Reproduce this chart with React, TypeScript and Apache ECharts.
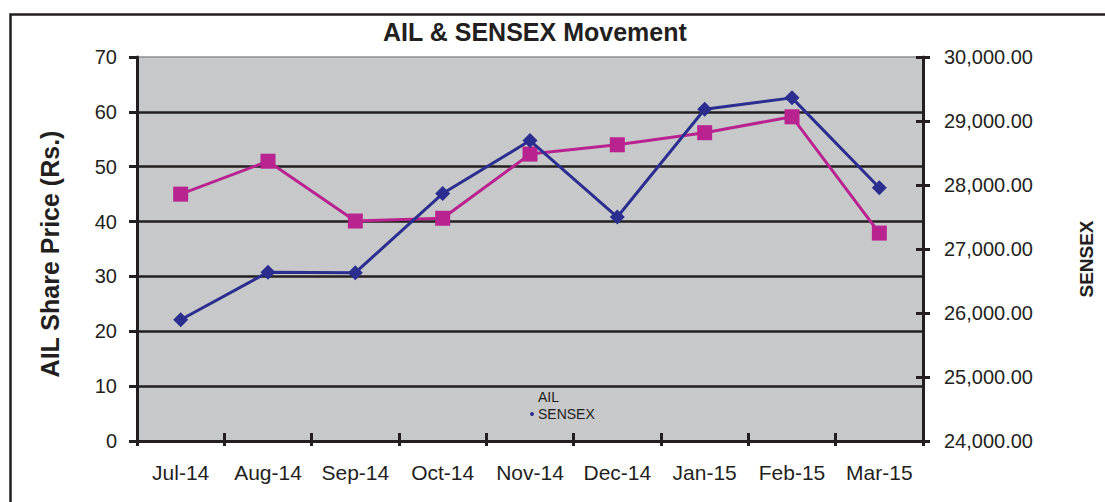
import React, { useEffect, useRef } from "react";
import * as echarts from "echarts";

const months = ["Jul-14", "Aug-14", "Sep-14", "Oct-14", "Nov-14", "Dec-14", "Jan-15", "Feb-15", "Mar-15"];
const ailPrice = [45.0, 51.0, 40.1, 40.6, 52.3, 54.0, 56.2, 59.1, 37.9];
const sensex = [25894.97, 26638.11, 26630.51, 27865.83, 28693.99, 27499.42, 29182.95, 29361.5, 27957.49];
const leftAxis = { min: 0, max: 70, interval: 10 };
const rightAxis = { min: 24000, max: 30000, interval: 1000 };

const FONT = "'Liberation Sans', Arial, Helvetica, sans-serif";
const INK = "#231f20";
const MAGENTA = "#b8238f";
const BLUE = "#2b2e8f";

const gridRect = { left: 137, right: 182, top: 57, bottom: 61 };

export default function App() {
  const ref = useRef<HTMLDivElement>(null);
  useEffect(() => {
    if (!ref.current) return;
    const chart = echarts.init(ref.current, null, { renderer: "svg" });
    const fmtRight = (v: number) =>
      v.toLocaleString("en-US", { minimumFractionDigits: 2, maximumFractionDigits: 2 });
    chart.setOption({
      animation: false,
      backgroundColor: "#ffffff",
      textStyle: { fontFamily: FONT, color: INK },
      title: {
        text: "AIL & SENSEX Movement",
        left: 378,
        top: 14,
        textStyle: { fontFamily: FONT, fontWeight: "bold", fontSize: 25, color: INK },
      },
      legend: {
        orient: "vertical",
        left: 530,
        top: 390,
        itemGap: 3,
        itemWidth: 4,
        itemHeight: 4,
        padding: 0,
        textStyle: { fontFamily: FONT, fontSize: 14, color: INK, padding: [0, 0, 0, -1] },
        data: [
          { name: "AIL", icon: "circle", itemStyle: { opacity: 0 } },
          { name: "SENSEX", icon: "circle" },
        ],
      },
      graphic: [
        {
          type: "rect",
          shape: { x: 10.5, y: 14.5, width: 1200, height: 600 },
          style: { fill: "none", stroke: INK, lineWidth: 2.5 },
          z: 100,
          silent: true,
        },
      ],
      grid: [
        {
          ...gridRect,
          show: true,
          backgroundColor: "#c7c8ca",
          borderColor: "#8e8f91",
          borderWidth: 1.5,
        },
        { ...gridRect, show: false },
      ],
      xAxis: [
        {
          type: "category",
          data: months,
          gridIndex: 0,
          boundaryGap: true,
          axisLine: { show: true, lineStyle: { color: INK, width: 3 } },
          axisTick: { show: true, inside: false, length: 5, lineStyle: { color: INK, width: 3 } },
          axisLabel: { fontFamily: FONT, fontSize: 21, color: INK, margin: 21, interval: 0 },
          splitLine: { show: false },
        },
        {
          type: "category",
          data: months,
          gridIndex: 1,
          position: "bottom",
          boundaryGap: true,
          axisLine: { show: false },
          axisTick: { show: true, inside: true, length: 8, lineStyle: { color: INK, width: 3 } },
          axisLabel: { show: false },
          splitLine: { show: false },
        },
      ],
      yAxis: [
        {
          type: "value",
          gridIndex: 0,
          position: "left",
          ...leftAxis,
          name: "AIL Share Price (Rs.)",
          nameLocation: "middle",
          nameRotate: 90,
          nameGap: 75,
          nameTextStyle: { fontFamily: FONT, fontWeight: "bold", fontSize: 25, color: INK, padding: [0, 10, 0, 0] },
          axisLine: { show: true, lineStyle: { color: INK, width: 3 } },
          axisTick: { show: true, inside: false, length: 8, lineStyle: { color: INK, width: 3 } },
          axisLabel: { fontFamily: FONT, fontSize: 20, color: INK, margin: 20 },
          splitLine: { show: true, showMaxLine: false, lineStyle: { color: INK, width: 2.5 } },
        },
        {
          type: "value",
          gridIndex: 0,
          position: "right",
          ...rightAxis,
          name: "SENSEX",
          nameLocation: "middle",
          nameRotate: 90,
          nameGap: 154,
          nameTextStyle: { fontFamily: FONT, fontWeight: "bold", fontSize: 19, color: INK, padding: [0, 20, 0, 0] },
          axisLine: { show: true, lineStyle: { color: INK, width: 3 } },
          axisTick: { show: true, inside: false, length: 7, lineStyle: { color: INK, width: 3 } },
          axisLabel: { fontFamily: FONT, fontSize: 20, color: INK, margin: 21, formatter: fmtRight },
          splitLine: { show: false },
        },
        {
          type: "value",
          gridIndex: 1,
          position: "right",
          ...rightAxis,
          axisLine: { show: false },
          axisTick: { show: true, inside: true, length: 7, lineStyle: { color: INK, width: 3 } },
          axisLabel: { show: false },
          splitLine: { show: false },
        },
      ],
      series: [
        {
          name: "AIL",
          type: "line",
          xAxisIndex: 0,
          yAxisIndex: 0,
          data: ailPrice,
          symbol: "rect",
          symbolSize: 15,
          lineStyle: { color: MAGENTA, width: 3 },
          itemStyle: { color: MAGENTA },
          z: 3,
        },
        {
          name: "SENSEX",
          type: "line",
          xAxisIndex: 0,
          yAxisIndex: 1,
          data: sensex,
          symbol: "diamond",
          symbolSize: 15,
          lineStyle: { color: BLUE, width: 3 },
          itemStyle: { color: BLUE },
          z: 4,
        },
      ],
    });
    return () => chart.dispose();
  }, []);
  return (
    <div
      ref={ref}
      style={{ position: "fixed", left: 0, top: 0, width: 1105, height: 502 }}
    />
  );
}
